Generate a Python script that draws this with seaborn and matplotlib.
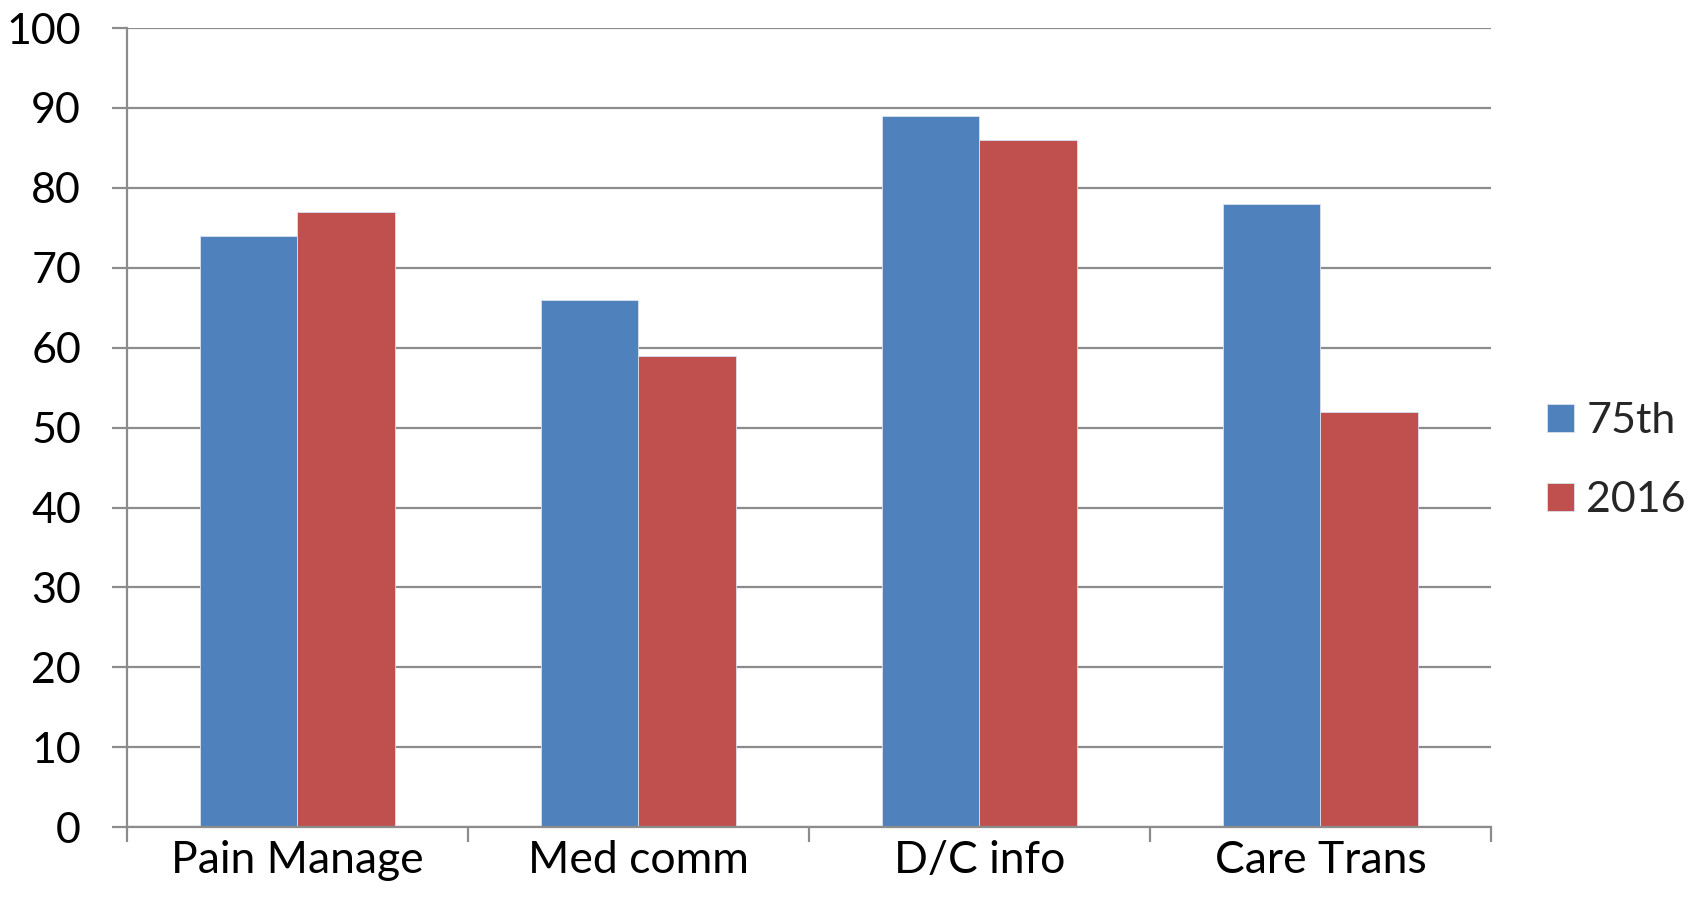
import matplotlib
matplotlib.use("Agg")
import matplotlib.pyplot as plt
from matplotlib.ticker import FixedLocator
import pandas as pd
import seaborn as sns

categories = ["Pain Manage", "Med comm", "D/C info", "Care Trans"]
series_names = ["75th", "2016"]
values_75th = [74, 66, 89, 78]
values_2016 = [77, 59, 86, 52]
y_ticks = list(range(0, 101, 10))
colors = ["#4F81BD", "#C0504D"]

df = pd.DataFrame({
    "category": categories * 2,
    "series": [series_names[0]] * len(categories) + [series_names[1]] * len(categories),
    "value": values_75th + values_2016,
})

sns.set_theme(style="white")
plt.rcParams["font.family"] = ["Lato", "DejaVu Sans"]

fig = plt.figure(figsize=(16.9, 9.13), dpi=100)
ax = fig.add_axes([0.0751, 0.0939, 0.8071, 0.8754])

grid_color = "#8C8C8C"
for y in y_ticks:
    ax.axhline(y, color=grid_color, lw=1.6, zorder=0)

sns.barplot(data=df, x="category", y="value", hue="series", order=categories,
            hue_order=series_names, palette=colors, width=0.573, gap=0,
            saturation=1, edgecolor="#D9E2EE", linewidth=0.6, ax=ax, zorder=2)

ax.set_xlim(-0.5, len(categories) - 0.5)
ax.set_ylim(0, 100)
ax.set_yticks(y_ticks)
ax.set_xlabel("")
ax.set_ylabel("")

for side in ["top", "right"]:
    ax.spines[side].set_visible(False)
ax.spines["left"].set_color(grid_color)
ax.spines["left"].set_linewidth(1.6)
ax.spines["bottom"].set_color(grid_color)
ax.spines["bottom"].set_linewidth(1.6)

ax.tick_params(axis="y", which="major", direction="out", length=11, width=1.6,
               color=grid_color, labelsize=31, labelcolor="black", pad=22, left=True)
ax.tick_params(axis="x", which="major", length=0, labelsize=32, labelcolor="black", pad=9)
ax.xaxis.set_minor_locator(FixedLocator([i - 0.5 for i in range(len(categories) + 1)]))
ax.tick_params(axis="x", which="minor", direction="out", length=11, width=1.6,
               color=grid_color, bottom=True)

handles, labels = ax.get_legend_handles_labels()
ax.legend(handles, labels, loc="center left", bbox_to_anchor=(1.041, 0.459),
          frameon=False, fontsize=31, handlelength=0.62, handleheight=0.62,
          handletextpad=0.3, labelspacing=0.95, borderaxespad=0, borderpad=0)

fig.savefig("out.png", dpi=100)
